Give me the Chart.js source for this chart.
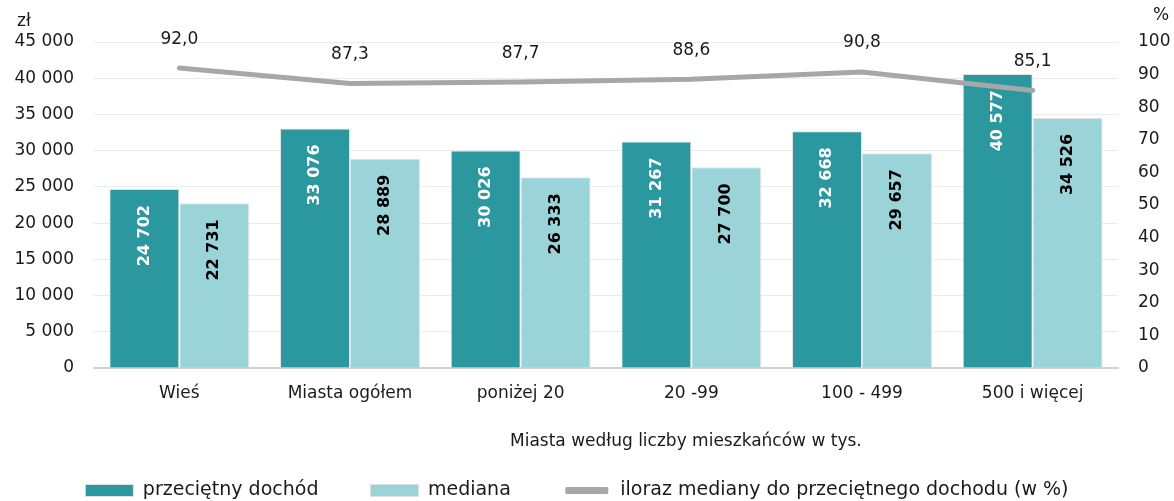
<!DOCTYPE html>
<html>
<head>
<meta charset="utf-8">
<script src="https://cdn.jsdelivr.net/npm/chart.js@4"></script>
<style>
  html, body { margin: 0; padding: 0; background: #fff; }
  #wrap { width: 1174px; height: 501px; }
</style>
</head>
<body>
<div id="wrap"><canvas id="chart"></canvas></div>
<script>
const categories = ['Wieś', 'Miasta ogółem', 'poniżej 20', '20 -99', '100 - 499', '500 i więcej'];
const avgIncome = [24702, 33076, 30026, 31267, 32668, 40577];
const medianIncome = [22731, 28889, 26333, 27700, 29657, 34526];
const ratio = [92.0, 87.3, 87.7, 88.6, 90.8, 85.1];

const FONT = "'DejaVu Sans', sans-serif";
const TEAL = '#2b979f';
const LIGHT = '#9ad3d8';
const GREY = '#a7a7a9';

const fmtNum = v => String(v).replace(/\B(?=(\d{3})+(?!\d))/g, ' ');
const fmtPct = v => v.toFixed(1).replace('.', ',');

// labels inside bars + above the line, unit captions, x axis title
const labelPlugin = {
  id: 'labels',
  afterDatasetsDraw(chart) {
    const ctx = chart.ctx;
    ctx.save();
    [0, 1].forEach(di => {
      const meta = chart.getDatasetMeta(di);
      const vals = chart.data.datasets[di].data;
      meta.data.forEach((bar, i) => {
        ctx.save();
        ctx.translate(bar.x, bar.y + 16);
        ctx.rotate(-Math.PI / 2);
        ctx.textAlign = 'right';
        ctx.textBaseline = 'middle';
        ctx.fillStyle = di === 0 ? '#ffffff' : '#000000';
        ctx.font = 'bold 16px ' + FONT;
        ctx.fillText(fmtNum(vals[i]), 0, 0);
        ctx.restore();
      });
    });
    const lm = chart.getDatasetMeta(2);
    ctx.font = '17px ' + FONT;
    ctx.fillStyle = '#1a1a1a';
    ctx.textAlign = 'center';
    ctx.textBaseline = 'middle';
    lm.data.forEach((pt, i) => {
      ctx.fillText(fmtPct(ratio[i]), pt.x, pt.y - 29);
    });
    ctx.restore();
  },
  afterDraw(chart) {
    const ctx = chart.ctx;
    const ca = chart.chartArea;
    const ys = chart.scales.y, y1 = chart.scales.y1, xs = chart.scales.x;
    ctx.save();
    ctx.fillStyle = '#1a1a1a';
    ctx.font = '17px ' + FONT;
    ctx.textBaseline = 'middle';
    ctx.textAlign = 'left';
    ctx.fillText('zł', ys.right - 77, ca.top - 20);
    ctx.fillText('%', y1.left + 35, ca.top - 26);
    ctx.textAlign = 'center';
    ctx.fillText('Miasta według liczby mieszkańców w tys.', ca.left + (ca.right - ca.left) * 0.578, xs.top + 74);
    ctx.restore();
  }
};

new Chart(document.getElementById('chart'), {
  data: {
    labels: categories,
    datasets: [
      {
        type: 'bar',
        label: 'przeciętny dochód',
        data: avgIncome,
        backgroundColor: TEAL,
        borderColor: '#e3e3e3',
        borderWidth: 1,
        yAxisID: 'y',
        order: 2
      },
      {
        type: 'bar',
        label: 'mediana',
        data: medianIncome,
        backgroundColor: LIGHT,
        borderColor: '#e3e3e3',
        borderWidth: 1,
        yAxisID: 'y',
        order: 2
      },
      {
        type: 'line',
        label: 'iloraz mediany do przeciętnego dochodu (w %)',
        data: ratio,
        borderColor: GREY,
        backgroundColor: GREY,
        borderWidth: 5,
        borderCapStyle: 'round',
        pointRadius: 0,
        tension: 0,
        yAxisID: 'y1',
        order: 1
      }
    ]
  },
  options: {
    responsive: true,
    maintainAspectRatio: false,
    animation: false,
    datasets: { bar: { categoryPercentage: 0.82, barPercentage: 1 } },
    layout: { padding: { top: 42, left: 13, right: 3, bottom: -9 } },
    plugins: {
      tooltip: { enabled: false },
      legend: {
        position: 'bottom',
        labels: {
          boxWidth: 48,
          boxHeight: 12,
          padding: 52,
          color: '#1a1a1a',
          font: { family: FONT, size: 19 },
          generateLabels(chart) {
            return chart.data.datasets.map((ds, i) => ({
              // trailing spaces keep the row shifted left like the original
              text: i === 2 ? ds.label + '     ' : ds.label,
              fillStyle: ds.backgroundColor,
              strokeStyle: i === 2 ? '#ffffff' : '#e0e0e0',
              lineWidth: i === 2 ? 5 : 1,
              borderRadius: i === 2 ? 4 : 0,
              fontColor: '#1a1a1a',
              datasetIndex: i
            }));
          }
        }
      }
    },
    scales: {
      x: {
        grid: { display: false, drawTicks: false },
        border: { color: '#d0d0d0', width: 2 },
        ticks: { color: '#1a1a1a', font: { family: FONT, size: 17 }, padding: 15 },
        afterFit: s => { s.height = 61; }
      },
      y: {
        position: 'left',
        min: 0, max: 45000,
        ticks: { stepSize: 5000, color: '#1a1a1a', font: { family: FONT, size: 17 }, padding: 20, callback: v => fmtNum(v) },
        grid: { color: '#ebebeb', drawTicks: false },
        border: { display: false },
        afterFit: s => { s.width = 81; }
      },
      y1: {
        position: 'right',
        min: 0, max: 100,
        ticks: { stepSize: 10, color: '#1a1a1a', font: { family: FONT, size: 17 }, padding: 20 },
        grid: { display: false, drawTicks: false },
        border: { display: false },
        afterFit: s => { s.width = 53; }
      }
    }
  },
  plugins: [labelPlugin]
});
</script>
</body>
</html>
